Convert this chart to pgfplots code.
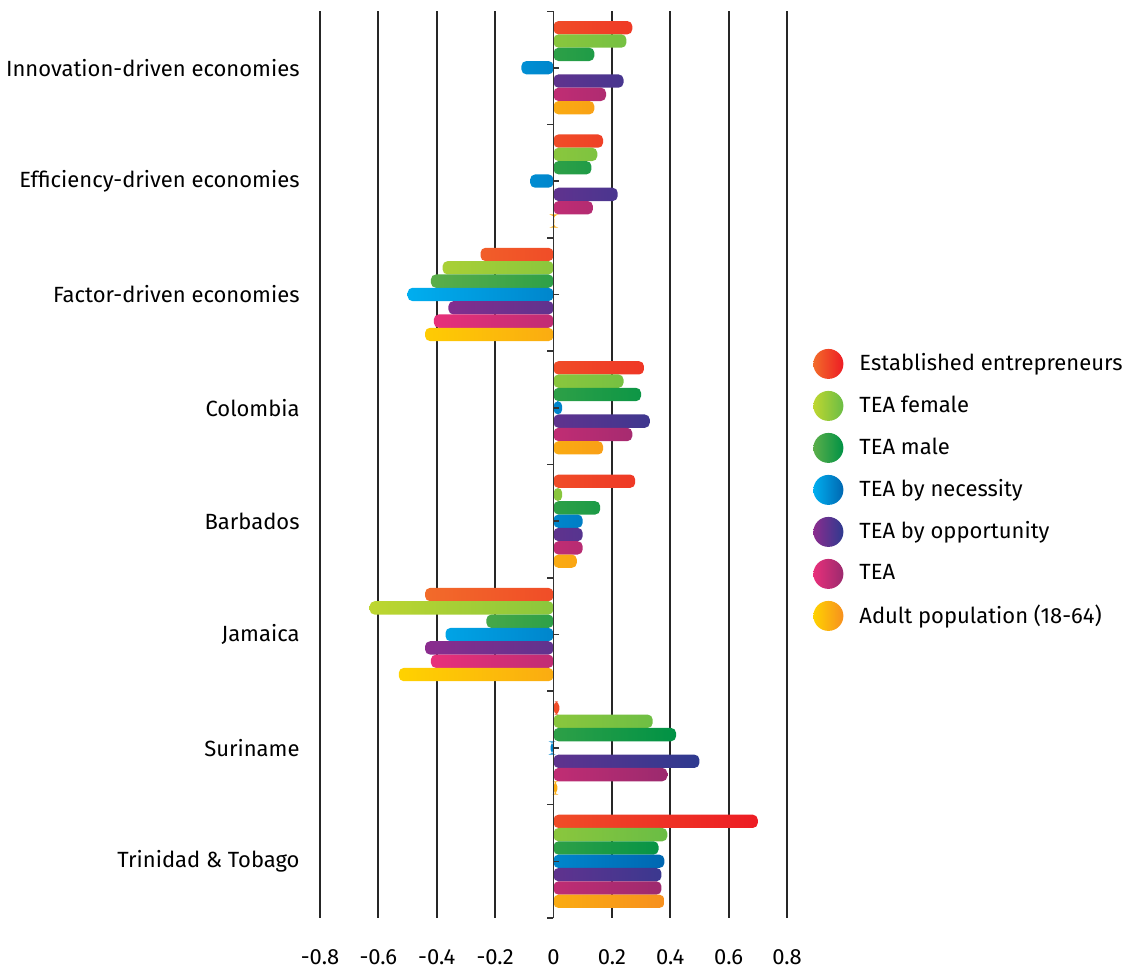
\documentclass[border=0pt]{standalone}
\usepackage{pgfplots}
\pgfplotsset{compat=1.18}
\usepackage{fontspec}
\setmainfont{Fira Sans}
\definecolor{estA}{HTML}{F26B2A}\definecolor{estB}{HTML}{ED1C24}
\definecolor{femA}{HTML}{BED630}\definecolor{femB}{HTML}{6ABD45}
\definecolor{malA}{HTML}{5BAE4A}\definecolor{malB}{HTML}{009245}
\definecolor{necA}{HTML}{00AEEF}\definecolor{necB}{HTML}{0067B1}
\definecolor{oppA}{HTML}{8B2C8E}\definecolor{oppB}{HTML}{2E3A8F}
\definecolor{teaA}{HTML}{E8307A}\definecolor{teaB}{HTML}{9B2A6E}
\definecolor{aduA}{HTML}{FFD200}\definecolor{aduB}{HTML}{F7901E}
\pgfplotsset{circleleg/.style={legend image code/.code={\path[##1,draw=none,sharp corners] (0pt,0pt) circle (7.5pt);}}}
\begin{document}
\begin{tikzpicture}
\begin{axis}[
  scale only axis, width=233.5pt, height=453.5pt,
  xmin=-0.8, xmax=0.8, ymin=-0.5, ymax=7.5, y dir=reverse,
  axis line style={draw=none},
  tick label style={font=\fontsize{11}{13}\selectfont},
  xtick={-0.8,-0.6,-0.4,-0.2,0,0.2,0.4,0.6,0.8},
  xticklabels={-0.8,-0.6,-0.4,-0.2,0,0.2,0.4,0.6,0.8},
  xmajorgrids, grid style={black!85, line width=0.9pt},
  major tick length=0pt,
  ytick={0,...,7},
  yticklabels={Innovation-driven economies, Efficiency-driven economies, Factor-driven economies, Colombia, Barbados, Jamaica, Suriname, Trinidad \& Tobago},
  yticklabel style={xshift=-6.7pt},
  xticklabel style={inner sep=1pt, yshift=-14.5pt},
  xbar, bar width=6.67pt,
  legend cell align=left,
  legend style={draw=none, fill=none, font=\fontsize{11}{13}\selectfont, at={(axis description cs:1,0.472)}, anchor=west, xshift=10pt, row sep=6pt,
    /tikz/every odd column/.style={column sep=6pt}},
]
\addplot[draw=none, rounded corners=2.5pt, left color=estA, right color=estB, bar shift=20pt, circleleg] coordinates {(0.27,0) (0.17,1) (-0.25,2) (0.31,3) (0.28,4) (-0.44,5) (0.02,6) (0.70,7)};
\addlegendentry{Established entrepreneurs}
\addplot[draw=none, rounded corners=2.5pt, left color=femA, right color=femB, bar shift=13.33pt, circleleg] coordinates {(0.25,0) (0.15,1) (-0.38,2) (0.24,3) (0.03,4) (-0.63,5) (0.34,6) (0.39,7)};
\addlegendentry{TEA female}
\addplot[draw=none, rounded corners=2.5pt, left color=malA, right color=malB, bar shift=6.67pt, circleleg] coordinates {(0.14,0) (0.13,1) (-0.42,2) (0.30,3) (0.16,4) (-0.23,5) (0.42,6) (0.36,7)};
\addlegendentry{TEA male}
\addplot[draw=none, rounded corners=2.5pt, left color=necA, right color=necB, bar shift=0pt, circleleg] coordinates {(-0.11,0) (-0.08,1) (-0.50,2) (0.03,3) (0.10,4) (-0.37,5) (-0.01,6) (0.38,7)};
\addlegendentry{TEA by necessity}
\addplot[draw=none, rounded corners=2.5pt, left color=oppA, right color=oppB, bar shift=-6.67pt, circleleg] coordinates {(0.24,0) (0.22,1) (-0.36,2) (0.33,3) (0.10,4) (-0.44,5) (0.50,6) (0.37,7)};
\addlegendentry{TEA by opportunity}
\addplot[draw=none, rounded corners=2.5pt, left color=teaA, right color=teaB, bar shift=-13.33pt, circleleg] coordinates {(0.18,0) (0.135,1) (-0.41,2) (0.27,3) (0.10,4) (-0.42,5) (0.39,6) (0.37,7)};
\addlegendentry{TEA}
\addplot[draw=none, rounded corners=2.5pt, left color=aduA, right color=aduB, bar shift=-20pt, circleleg] coordinates {(0.14,0) (0.003,1) (-0.44,2) (0.17,3) (0.08,4) (-0.53,5) (0.013,6) (0.38,7)};
\addlegendentry{Adult population (18-64)}
\draw[black!80, line width=0.8pt] (axis cs:0,-0.5) -- (axis cs:0,7.5);
\pgfplotsinvokeforeach{-0.5,0.5,1.5,2.5,3.5,4.5,5.5,6.5,7.5}{\draw[black!80, line width=0.8pt] (axis cs:0,#1) -- ++(-3pt,0pt);}
\pgfplotsinvokeforeach{0,1,2,3,4,5,6,7}{\draw[black!80, line width=0.8pt] (axis cs:0,#1) -- ++(3pt,0pt);}
\end{axis}
\pgfresetboundingbox
\path (current axis.south west) ++(-160pt,-25.5pt) rectangle ++(565pt,484.5pt);
\end{tikzpicture}
\end{document}
